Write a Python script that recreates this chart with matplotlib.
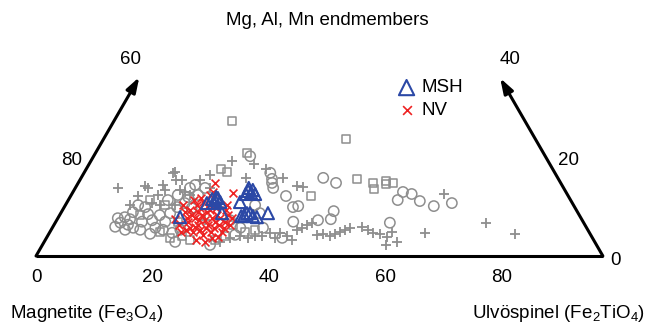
import numpy as np
import matplotlib
matplotlib.use('Agg')
import matplotlib.pyplot as plt

# Fonts
plt.rcParams['font.family'] = ['Liberation Sans', 'DejaVu Sans']
plt.rcParams['mathtext.fontset'] = 'custom'
plt.rcParams['mathtext.rm'] = 'Liberation Sans'
plt.rcParams['mathtext.it'] = 'Liberation Sans:italic'

# Data: ulvospinel % (b) and Mg, Al, Mn endmember % (c) for each point
nv_b = [23.5, 27.6, 23.8, 24.1, 22.6, 20.2, 24.4, 23.3, 27.8, 21.2, 21.9, 22.7, 23.6, 23.5,
        23.4, 24.5, 25.5, 25.0, 25.3, 26.5, 27.4, 22.8, 23.7, 24.6, 24.7, 25.6, 26.6, 26.4,
        26.4, 27.7, 27.8, 27.0, 28.3, 29.6, 29.1, 28.9, 30.2, 20.2, 23.2, 25.9, 27.6, 28.4,
        29.4, 29.5, 21.5, 22.5, 22.2, 24.5, 22.6, 24.7, 26.2, 27.9, 28.1, 29.9, 21.6]
nv_c = [14.5, 12.5, 12.1, 12.7, 10.1, 7.3, 5.8, 10.7, 10.1, 8.7, 9.1, 8.1, 7.5, 8.7,
        9.5, 8.1, 7.1, 8.7, 9.1, 7.5, 6.7, 6.7, 5.6, 4.8, 6.2, 5.2, 4.2, 5.6,
        6.2, 4.8, 5.6, 8.1, 6.2, 4.8, 6.7, 8.1, 6.2, 10.1, 5.2, 3.2, 2.8, 3.6,
        3.8, 5.6, 6.2, 4.8, 7.5, 7.1, 11.5, 10.1, 9.5, 7.5, 9.1, 7.5, 11.1]

msh_b = [20.9, 24.1, 25.2, 25.5, 26.3, 25.3, 27.7, 29.7, 30.0, 30.7, 30.7, 29.9,
         31.7, 32.5, 33.3, 34.1, 35.6, 25.1, 24.6, 29.8, 31.5, 32.0, 31.3]
msh_c = [7.7, 10.5, 11.1, 11.5, 10.7, 10.5, 8.5, 10.7, 12.9, 12.5, 13.1, 12.3,
         8.1, 8.5, 7.9, 7.7, 8.5, 11.7, 11.3, 13.5, 12.3, 8.5, 7.9]

circ_b = [10.7, 10.3, 11.2, 11.4, 12.7, 12.7, 12.5, 12.3, 13.9, 12.5, 15.3, 14.8, 13.9,
          15.1, 17.4, 16.4, 17.7, 17.2, 19.2, 18.8, 17.1, 18.8, 21.1, 22.5, 19.4, 18.3,
          22.2, 20.3, 20.3, 19.7, 22.0, 20.3, 21.8, 22.3, 26.9, 32.0, 32.9, 33.3, 34.0,
          37.0, 39.3, 40.1, 41.6, 44.3, 46.7, 47.0, 44.9, 40.8, 40.5, 32.3, 32.6, 34.2,
          29.8, 36.2, 32.1, 28.8, 57.5, 56.7, 58.4, 56.6, 60.5, 63.4, 66.2]
circ_c = [5.8, 7.5, 6.6, 7.7, 5.2, 6.2, 7.3, 8.7, 5.6, 10.1, 5.2, 6.8, 9.7,
          8.3, 4.4, 7.1, 5.6, 8.1, 5.2, 6.8, 11.1, 8.5, 4.6, 2.8, 9.7, 12.1,
          5.2, 10.5, 11.7, 13.5, 9.5, 14.1, 12.1, 13.5, 19.8, 16.5, 15.3, 14.5, 13.5,
          11.9, 9.7, 9.9, 15.5, 14.5, 8.9, 7.3, 7.1, 6.8, 3.6, 5.6, 10.1, 8.5,
          7.1, 5.6, 4.2, 2.2, 6.6, 12.7, 12.3, 11.1, 10.9, 9.9, 10.5]

sq_b = [20.3, 41.7, 26.0, 23.1, 24.5, 47.5, 50.7, 51.4, 52.7, 53.0, 54.1, 41.3,
        18.9, 21.2, 23.1, 24.9, 29.2, 30.5, 33.5, 35.0, 21.0, 17.1, 14.0, 13.8, 30.8]
sq_c = [26.8, 23.2, 20.4, 17.3, 16.7, 15.3, 14.5, 13.3, 14.9, 14.3, 14.5, 11.9,
        4.8, 3.6, 4.0, 3.2, 3.2, 4.0, 4.8, 5.2, 6.8, 10.1, 11.1, 8.1, 6.2]

plus_b = [7.3, 11.8, 14.7, 14.9, 15.5, 18.2, 19.3, 20.4, 18.8, 23.1, 21.8, 24.3, 28.3,
          30.9, 28.3, 34.7, 39.0, 37.9, 25.5, 16.3, 11.6, 15.6, 11.1, 17.5, 20.6,
          39.6, 42.3, 42.9, 43.5, 44.1, 46.2, 47.1, 48.5, 49.2, 49.9, 50.5, 51.2, 53.1,
          54.5, 55.6, 56.9, 58.4, 58.8, 59.0, 60.6, 64.5, 74.0, 80.1, 63.9,
          31.5, 33.1, 34.6, 35.6, 36.8, 37.9, 39.3, 30.2, 41.1, 42.4,
          12.5, 14.8, 15.3, 16.5]
plus_c = [13.5, 13.9, 10.5, 12.1, 16.7, 13.1, 12.7, 12.1, 10.1, 13.5, 16.1, 18.8, 18.3,
          17.3, 15.5, 15.5, 13.7, 13.9, 7.1, 10.1, 11.9, 13.1, 10.1, 15.1, 15.1,
          4.6, 5.2, 5.6, 6.2, 6.6, 4.2, 4.4, 4.0, 4.4, 4.8, 5.2, 5.6, 5.8,
          5.2, 4.6, 4.4, 3.8, 4.8, 2.2, 2.8, 4.6, 6.6, 4.4, 12.3,
          3.6, 4.0, 3.6, 4.0, 4.0, 4.6, 3.6, 2.8, 4.0, 3.2,
          13.5, 14.1, 16.5, 15.1]

# Outline of the truncated diagram (ternary %)
edge_total = 97.4      # right edge: b + c = 97.4
left_top_c = 35.5
right_top_c = 35.3
bottom_ticks = [0, 20, 40, 60, 80]
side_ticks = [20, 40]

GRAY = '#8e8e8e'
RED = '#ee2222'
BLUE = '#2b48a6'


def tern_xy(b, c):
    b = np.asarray(b, dtype=float)
    c = np.asarray(c, dtype=float)
    return b + c / 2.0, c * np.sqrt(3) / 2.0


fig = plt.figure(figsize=(6.51, 3.25), dpi=100)
ax = fig.add_axes([0, 0, 1, 1])
ax.set_xlim(-6.19, 105.67)
ax.set_ylim(-11.86, 43.99)
ax.axis('off')

# Outline
x0, y0 = tern_xy(0, 0)
x1, y1 = tern_xy(edge_total, 0)
ax.plot([x0, x1], [y0, y1], color='black', lw=2.2, solid_capstyle='butt', zorder=1)
xl, yl = tern_xy(0, left_top_c)
xr, yr = tern_xy(edge_total - right_top_c, right_top_c)
arrow = dict(arrowstyle='-|>,head_length=0.9,head_width=0.3', color='black', lw=2.2,
             shrinkA=0, shrinkB=0)
ax.annotate('', xy=(xl, yl), xytext=(x0, y0), arrowprops=arrow, zorder=1)
ax.annotate('', xy=(xr, yr), xytext=(x1, y1), arrowprops=arrow, zorder=1)

# Tick labels
fs = 13.5
for t in bottom_ticks:
    tx, ty = tern_xy(t, 0)
    ax.annotate(str(t), (tx, ty), xytext=(0, -15.5), textcoords='offset points',
                ha='center', va='center', fontsize=fs)
for t in side_ticks:
    tx, ty = tern_xy(0, t)
    ax.annotate(str(100 - t), (tx, ty), xytext=(-16, -3.5), textcoords='offset points',
                ha='center', va='center', fontsize=fs)
for t in [0] + side_ticks:
    tx, ty = tern_xy(edge_total - t, t)
    off = 9 if t == 0 else 17
    ax.annotate(str(t), (tx, ty), xytext=(off, -3.5), textcoords='offset points',
                ha='center', va='center', fontsize=fs)

# Axis titles
ax.text(50.0, 40.4, 'Mg, Al, Mn endmembers', ha='center', va='center', fontsize=fs)
ax.text(-4.5, -9.9, 'Magnetite (Fe$_3$O$_4$)', ha='left', va='center', fontsize=fs)
ax.text(104.6, -9.9, 'Ulvöspinel (Fe$_2$TiO$_4$)', ha='right', va='center', fontsize=fs)

# Points
cx, cy = tern_xy(circ_b, circ_c)
ax.scatter(cx, cy, s=55, marker='o', facecolors='none', edgecolors=GRAY, linewidths=1.1, zorder=2)
sx, sy = tern_xy(sq_b, sq_c)
ax.scatter(sx, sy, s=32, marker='s', facecolors='none', edgecolors=GRAY, linewidths=1.1, zorder=2)
px, py = tern_xy(plus_b, plus_c)
ax.scatter(px, py, s=45, marker='+', color=GRAY, linewidths=1.3, zorder=2)
nx, ny = tern_xy(nv_b, nv_c)
ax.scatter(nx, ny, s=32, marker='x', color=RED, linewidths=1.2, zorder=3, label='NV')
mx, my = tern_xy(msh_b, msh_c)
ax.scatter(mx, my, s=75, marker='^', facecolors='none', edgecolors=BLUE, linewidths=1.5,
           zorder=4, label='MSH')

handles, labels = ax.get_legend_handles_labels()
leg = ax.legend(handles[::-1], labels[::-1], loc='upper left',
                bbox_to_anchor=(385 / 651, 1 - 70 / 325),
                frameon=False, fontsize=fs, handletextpad=0.15, labelspacing=0.3,
                borderpad=0, handlelength=1.3)
leg.legend_handles[0].set_sizes([120])
leg.legend_handles[1].set_sizes([40])

fig.savefig('out.png', dpi=100)
